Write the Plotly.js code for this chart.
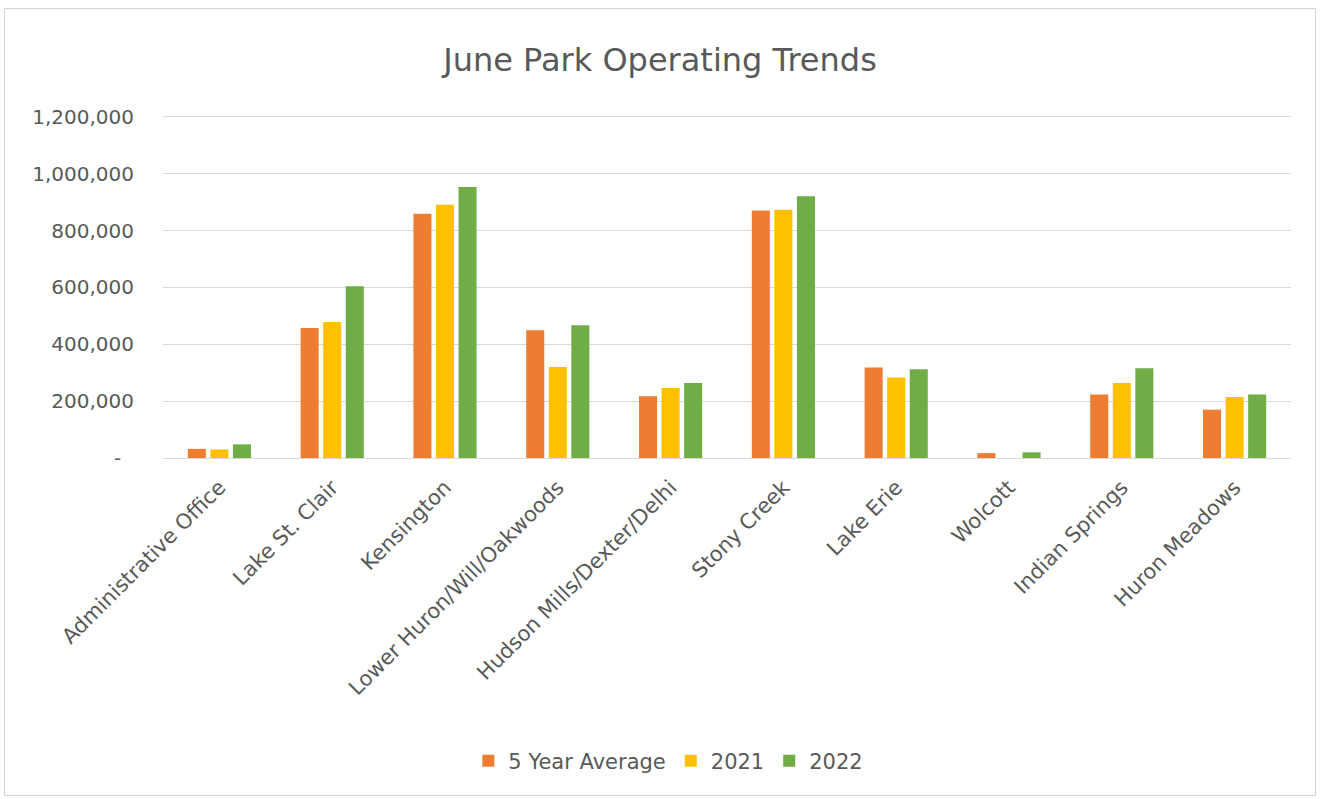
<!DOCTYPE html>
<html>
<head>
<meta charset="utf-8">
<script src="https://cdn.plot.ly/plotly-3.0.1.min.js"></script>
<style>
  html, body { margin: 0; padding: 0; background: #ffffff; }
  #frame { position: absolute; left: 4px; top: 8px; border: 1px solid #d4d4d4; width: 1310px; height: 786px; }
  #chart { width: 1310px; height: 786px; }
</style>
</head>
<body>
<div id="frame"><div id="chart"></div></div>
<script>
const categories = ["Administrative Office", "Lake St. Clair", "Kensington", "Lower Huron/Will/Oakwoods",
  "Hudson Mills/Dexter/Delhi", "Stony Creek", "Lake Erie", "Wolcott", "Indian Springs", "Huron Meadows"];
const fiveYearAverage = [32000, 457000, 859000, 449000, 217000, 871000, 318000, 17000, 223000, 170000];
const y2021 = [30000, 478000, 891000, 320000, 246000, 873000, 283000, 0, 264000, 215000];
const y2022 = [48000, 604000, 953000, 467000, 264000, 921000, 312000, 20000, 316000, 223000];
const yTickVals = [0, 200000, 400000, 600000, 800000, 1000000, 1200000];
const yTickText = ["-\u00a0\u00a0", "200,000", "400,000", "600,000", "800,000", "1,000,000", "1,200,000"];

const font = "DejaVu Sans, sans-serif";
const grey = "#595959";

const traces = [
  { type: "bar", name: "5 Year Average", x: categories, y: fiveYearAverage, marker: { color: "#ED7D31" } },
  { type: "bar", name: "2021", x: categories, y: y2021, marker: { color: "#FFC000" } },
  { type: "bar", name: "2022", x: categories, y: y2022, marker: { color: "#70AD47" } }
];

const layout = {
  width: 1310, height: 786,
  margin: { l: 158, r: 24, t: 104.5, b: 337.3 },
  paper_bgcolor: "#ffffff", plot_bgcolor: "#ffffff",
  font: { family: font, color: grey },
  title: { text: "June Park Operating Trends", font: { family: font, size: 32, color: grey },
           x: 0.5, xanchor: "center", y: 0.935, yanchor: "middle", yref: "container" },
  barmode: "group", bargap: 0.4, bargroupgap: 0.2,
  xaxis: { tickangle: -45, tickfont: { family: font, size: 21, color: grey }, showline: false,
           ticks: "", showgrid: false, automargin: false, ticklabelstandoff: 12 },
  yaxis: { range: [0, 1210000], tickvals: yTickVals, ticktext: yTickText, tickfont: { family: font, size: 20, color: grey },
           gridcolor: "#d9d9d9", gridwidth: 1, zeroline: true, zerolinecolor: "#d9d9d9", zerolinewidth: 1,
           ticks: "", ticklabelstandoff: 28, automargin: false, fixedrange: true },
  showlegend: true,
  legend: { orientation: "h", x: 0.448, xanchor: "center", y: -0.881, yanchor: "middle",
            font: { family: font, size: 21, color: grey }, traceorder: "normal" }
};

Plotly.newPlot("chart", traces, layout, { displayModeBar: false, staticPlot: true });
</script>
</body>
</html>
